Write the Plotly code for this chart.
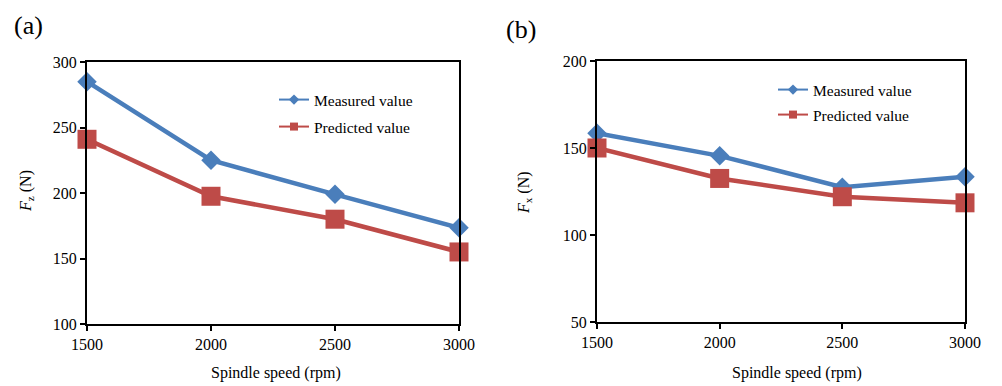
import plotly.graph_objects as go

speed = [1500, 2000, 2500, 3000]
fz_measured = [285, 225, 199, 173.5]
fz_predicted = [241, 197.5, 180, 155]
fx_measured = [158.5, 145.5, 127.5, 133.5]
fx_predicted = [150, 132.5, 122, 118.5]

BLUE = "#4a7ebb"
RED = "#be4b48"
FONT = "Liberation Serif"

fig = go.Figure()

def add_panel(xa, ya, meas, pred, lg_m, lg_p):
    fig.add_trace(go.Scatter(x=speed, y=meas, xaxis=xa, yaxis=ya, mode="lines+markers",
                             line=dict(color=BLUE, width=4.5),
                             marker=dict(symbol="diamond", size=15, color=BLUE),
                             showlegend=False, cliponaxis=False))
    fig.add_trace(go.Scatter(x=speed, y=pred, xaxis=xa, yaxis=ya, mode="lines+markers",
                             line=dict(color=RED, width=4.5),
                             marker=dict(symbol="square", size=19, color=RED),
                             showlegend=False, cliponaxis=False))
    fig.add_trace(go.Scatter(x=[None], y=[None], xaxis=xa, yaxis=ya, mode="lines+markers",
                             name="Measured value", line=dict(color=BLUE, width=2),
                             marker=dict(symbol="diamond", size=8, color=BLUE),
                             legend=lg_m))
    fig.add_trace(go.Scatter(x=[None], y=[None], xaxis=xa, yaxis=ya, mode="lines+markers",
                             name="Predicted value", line=dict(color=RED, width=2),
                             marker=dict(symbol="square", size=8, color=RED),
                             legend=lg_p))

add_panel("x", "y", fz_measured, fz_predicted, "legend", "legend2")
add_panel("x2", "y2", fx_measured, fx_predicted, "legend3", "legend4")

# page body has an 8px margin; map screen pixels to figure fractions
OFF = 8
W, H = 1002 - OFF, 386 - OFF
def px(x):
    return (x - OFF) / W
def py(y):
    return 1 - (y - OFF) / H

axis_common = dict(showline=True, linecolor="black", linewidth=2, mirror=True,
                   ticks="outside", ticklen=5, tickwidth=1.5, tickcolor="black",
                   showgrid=False, zeroline=False, automargin=False,
                   tickfont=dict(family=FONT, size=16, color="black"))

fig.update_layout(
    template="none",
    width=W, height=H,
    margin=dict(l=0, r=0, t=0, b=0, autoexpand=False),
    paper_bgcolor="white", plot_bgcolor="white",
    font=dict(family=FONT, color="black"),
    xaxis=dict(domain=[px(87), px(459)], range=[1500, 3000], dtick=500, tick0=1500,
               anchor="y", **axis_common),
    yaxis=dict(domain=[py(324), py(62)], range=[100, 300], dtick=50,
               anchor="x", **axis_common),
    xaxis2=dict(domain=[px(597), px(965)], range=[1500, 3000], dtick=500, tick0=1500,
                anchor="y2", **axis_common),
    yaxis2=dict(domain=[py(322), py(61)], range=[50, 200], dtick=50,
                anchor="x2", **axis_common),
)

legend_common = dict(bgcolor="rgba(0,0,0,0)", borderwidth=0, xanchor="left", yanchor="middle",
                     font=dict(family=FONT, size=15.5, color="black"), itemwidth=30)
fig.update_layout(
    legend=dict(x=px(274), y=py(100), **legend_common),
    legend2=dict(x=px(274), y=py(127), **legend_common),
    legend3=dict(x=px(773), y=py(90), **legend_common),
    legend4=dict(x=px(773), y=py(115), **legend_common),
)

annos = [
    dict(text="(a)", x=px(28), y=py(25), font=dict(size=26)),
    dict(text="(b)", x=px(521), y=py(30), font=dict(size=26)),
    dict(text="Spindle speed (rpm)", x=px(276), y=py(373), font=dict(size=16)),
    dict(text="Spindle speed (rpm)", x=px(797), y=py(373), font=dict(size=16)),
    dict(text="<i>F</i><sub>z</sub> (N)", x=px(26), y=py(191), font=dict(size=16), textangle=-90),
    dict(text="<i>F</i><sub>x</sub> (N)", x=px(524), y=py(193), font=dict(size=16), textangle=-90),
]
for a in annos:
    a["font"].update(family=FONT, color="black")
    fig.add_annotation(xref="paper", yref="paper", showarrow=False,
                       xanchor="center", yanchor="middle", **a)

fig.write_html("out.html")
